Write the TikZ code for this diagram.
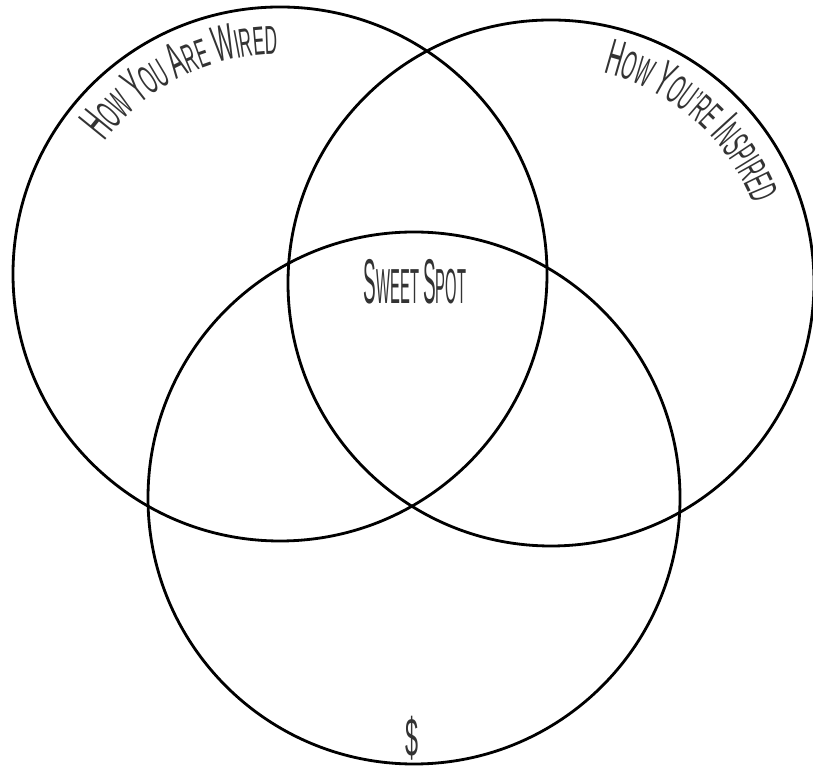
\documentclass[tikz,border=0pt]{standalone}
\usepackage{fontspec}
\newfontfamily\handfont[FakeStretch=0.43]{Liberation Sans}
\newfontfamily\narrowfont[FakeStretch=0.3]{Liberation Sans}
\usetikzlibrary{decorations.text}
\newcommand\capbig{\handfont\fontsize{29}{29}\selectfont}
\newcommand\capsmall{\handfont\fontsize{23}{23}\selectfont}

\begin{document}
\begin{tikzpicture}[x=0.02cm,y=0.02cm]
\tikzset{
  vennring/.style={draw=black,line width=1.6pt},
  venntext/.style={text=black!80,inner sep=0pt},
  arclabel/.style={decorate,decoration={text along path,text color=black!80,text=#1}}
}
\useasboundingbox (0,0) rectangle (813,766);
% circle centres
\coordinate (wired) at (280,492);
\coordinate (inspired) at (551,483);
\coordinate (money) at (414,268);
\draw[vennring] (wired) circle[radius=267];
\draw[vennring] (inspired) circle[radius=263];
\draw[vennring] (money) circle[radius=266];
% curved titles
\path[arclabel={|\capbig|H|\capsmall|OW |\capbig|Y|\capsmall|OU |\capbig|A|\capsmall|RE |\capbig|W|\capsmall|IRED}]
  (wired) ++(143:220) arc[start angle=143,end angle=80,radius=220];
\path[arclabel={|\capbig|H|\capsmall|OW |\capbig|Y|\capsmall|OU’RE |\capbig|I|\capsmall|NSPIRED}]
  (inspired) ++(76:217) arc[start angle=76,end angle=5,radius=217];
% centre and bottom labels
\node[venntext] (sweet) at (415,484) {\narrowfont\fontsize{36}{36}\selectfont S\fontsize{28}{28}\selectfont WEET \fontsize{36}{36}\selectfont S\fontsize{28}{28}\selectfont POT};
\node[venntext] (dollar) at (412,28) {\handfont\fontsize{31}{31}\selectfont\$};
\end{tikzpicture}
\end{document}
